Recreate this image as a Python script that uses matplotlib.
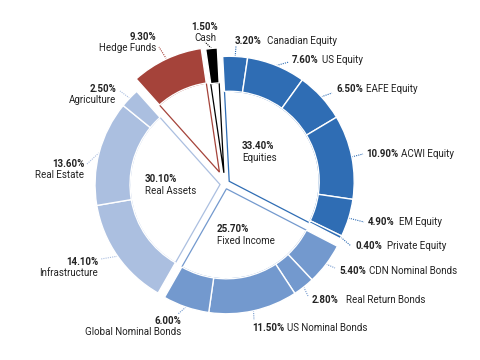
import numpy as np
import matplotlib
matplotlib.use("Agg")
import matplotlib.pyplot as plt
from matplotlib.patches import Wedge

plt.rcParams['font.family'] = ['Roboto', 'DejaVu Sans']

# data: groups clockwise from 12 o'clock
groups = ['Equities', 'Fixed Income', 'Real Assets', 'Hedge Funds', 'Cash']
group_values = [33.40, 25.70, 30.10, 9.30, 1.50]
group_colors = ['#2f6db4', '#7399ce', '#abbfe0', '#a5433a', '#000000']

sub_labels = [
    ['Canadian Equity', 'US Equity', 'EAFE Equity', 'ACWI Equity', 'EM Equity', 'Private Equity'],
    ['CDN Nominal Bonds', 'Real Return Bonds', 'US Nominal Bonds', 'Global Nominal Bonds'],
    ['Infrastructure', 'Real Estate', 'Agriculture'],
    ['Hedge Funds'],
    ['Cash'],
]
sub_values = [
    [3.20, 7.60, 6.50, 10.90, 4.90, 0.40],
    [5.40, 2.80, 11.50, 6.00],
    [14.10, 13.60, 2.50],
    [9.30],
    [1.50],
]

# layout (pixels in a 480x360 figure)
CX, CY, SCALE = 225, 184, 125.0
START = 93.0
explode = [0.04, 0.04, 0.04, 0.105, 0.09]
R_OUT, R_IN = 1.0, 0.72

# label placement: (x, y, style, name x) in pixels; 'l' = one line, 'r'/'c' = two lines
sub_label_pos = [
    [(235, 41, 'l', 267), (292, 60, 'l', 322), (336, 89, 'l', 366),
     (366, 154, 'l', 401), (368, 222, 'l', 399), (355, 246, 'l', 387)],
    [(339, 271, 'l', 369), (312, 300, 'l', 346), (252, 328, 'l', 287), (181, 321, 'r', None)],
    [(98, 262, 'r', None), (84, 164, 'r', None), (116, 89, 'r', None)],
    [(156, 37, 'r', None)],
    [(205, 27, 'c', None)],
]
leader_ends = [
    [(236, 46), (289, 62), (332, 93), (363, 154), (364, 222), (351, 246)],
    [(335, 268), (308, 296), (254, 320), (178, 314)],
    [(101, 259), (87, 164), (120, 91)],
    [(159, 47)],
    [(205, 42)],
]
group_label_pos = [(242, 146), (217, 229), (145, 179), None, None]


def d(px, py):
    return (px - CX) / SCALE, (CY - py) / SCALE


fig = plt.figure(figsize=(4.8, 3.6), dpi=100)
ax = fig.add_axes([0, 0, 1, 1])
ax.set_xlim(-CX / SCALE, (480 - CX) / SCALE)
ax.set_ylim(-(360 - CY) / SCALE, CY / SCALE)
ax.axis('off')

total = sum(sum(v) for v in sub_values)
deg = 360.0 / total
txt = '#222222'
fs = 7

angle = START
for gi, g in enumerate(groups):
    gsum = sum(sub_values[gi])
    g_start = angle
    g_end = angle - gsum * deg
    mid = np.radians((g_start + g_end) / 2)
    cx, cy = explode[gi] * np.cos(mid), explode[gi] * np.sin(mid)
    col = group_colors[gi]

    # inner white sector with coloured outline
    ax.add_patch(Wedge((cx, cy), R_IN, g_end, g_start, facecolor='white',
                       edgecolor=col, lw=0.9, zorder=1))

    a = g_start
    for si, v in enumerate(sub_values[gi]):
        a2 = a - v * deg
        ax.add_patch(Wedge((cx, cy), R_OUT, a2, a, width=R_OUT - R_IN,
                           facecolor=col, edgecolor='white', lw=1.0, zorder=2))
        # leader line
        m = np.radians((a + a2) / 2)
        x0, y0 = cx + 1.0 * np.cos(m), cy + 1.0 * np.sin(m)
        ex, ey = d(*leader_ends[gi][si])
        ax.plot([x0, ex], [y0, ey], ls=(0, (1, 1)), color=col, lw=0.8, zorder=1)

        # label
        lx, ly, style, nx = sub_label_pos[gi][si]
        pct = f'{v:.2f}%'
        name = sub_labels[gi][si]
        if style == 'l':
            ax.text(*d(lx, ly), pct, ha='left', va='center', fontsize=fs,
                    fontweight='bold', color=txt)
            ax.text(*d(nx, ly), name, ha='left', va='center', fontsize=fs, color=txt)
        else:
            ha = 'right' if style == 'r' else 'center'
            ax.text(*d(lx, ly), pct, ha=ha, va='center', fontsize=fs,
                    fontweight='bold', color=txt)
            ax.text(*d(lx, ly + 11), name, ha=ha, va='center', fontsize=fs, color=txt)
        a = a2

    if group_label_pos[gi] is not None:
        gx, gy = group_label_pos[gi]
        ax.text(*d(gx, gy), f'{group_values[gi]:.2f}%', ha='left', va='center',
                fontsize=fs, fontweight='bold', color=txt)
        ax.text(*d(gx, gy + 12), g, ha='left', va='center', fontsize=fs, color=txt)

    angle = g_end

fig.savefig('out.png', dpi=100)
